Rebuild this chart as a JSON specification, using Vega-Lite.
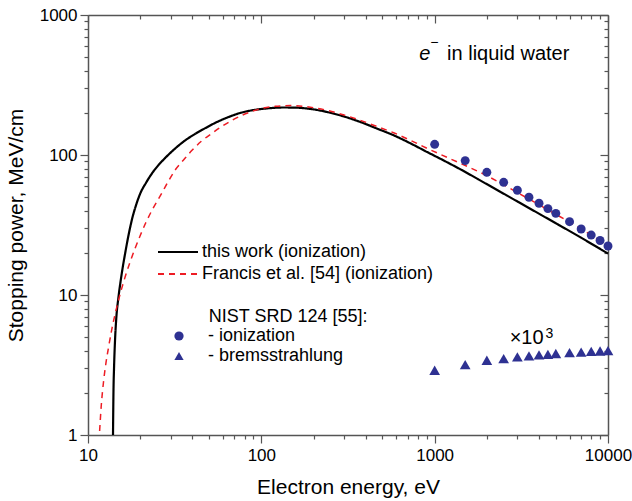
{
  "$schema": "https://vega.github.io/schema/vega-lite/v6.json",
  "width": 520,
  "height": 420,
  "autosize": {"type": "none"},
  "padding": {"left": 88, "top": 15, "right": 24, "bottom": 66},
  "config": {
    "font": "Liberation Sans",
    "view": {"stroke": null},
    "axis": {
      "grid": false,
      "domainColor": "#555555",
      "tickColor": "#555555",
      "domainWidth": 1.5,
      "tickWidth": 1.2,
      "labelColor": "#000000",
      "titleColor": "#000000",
      "labelFontSize": 17,
      "titleFontSize": 21,
      "titleFontWeight": "normal",
      "labelFont": "Liberation Sans",
      "titleFont": "Liberation Sans",
      "labelOverlap": false,
      "labelBound": false,
      "labelFlush": false
    },
    "legend": {"labelFont": "Liberation Sans", "labelColor": "#000000"}
  },
  "datasets": {
    "curves": [
      {"E": 13.94, "S": 1.0, "curve": "this work (ionization)"},
      {"E": 14.03, "S": 2.086, "curve": "this work (ionization)"},
      {"E": 14.13, "S": 2.995, "curve": "this work (ionization)"},
      {"E": 14.32, "S": 4.75, "curve": "this work (ionization)"},
      {"E": 14.56, "S": 6.82, "curve": "this work (ionization)"},
      {"E": 14.96, "S": 9.47, "curve": "this work (ionization)"},
      {"E": 15.36, "S": 12.12, "curve": "this work (ionization)"},
      {"E": 15.88, "S": 15.9, "curve": "this work (ionization)"},
      {"E": 16.42, "S": 20.18, "curve": "this work (ionization)"},
      {"E": 17.08, "S": 26.26, "curve": "this work (ionization)"},
      {"E": 17.94, "S": 34.73, "curve": "this work (ionization)"},
      {"E": 19.0, "S": 44.45, "curve": "this work (ionization)"},
      {"E": 20.04, "S": 53.26, "curve": "this work (ionization)"},
      {"E": 21.7, "S": 63.83, "curve": "this work (ionization)"},
      {"E": 23.41, "S": 74.0, "curve": "this work (ionization)"},
      {"E": 25.45, "S": 84.43, "curve": "this work (ionization)"},
      {"E": 27.93, "S": 95.5, "curve": "this work (ionization)"},
      {"E": 31.91, "S": 111.6, "curve": "this work (ionization)"},
      {"E": 36.42, "S": 127.4, "curve": "this work (ionization)"},
      {"E": 41.6, "S": 141.7, "curve": "this work (ionization)"},
      {"E": 47.52, "S": 155.6, "curve": "this work (ionization)"},
      {"E": 54.28, "S": 169.8, "curve": "this work (ionization)"},
      {"E": 64.77, "S": 186.8, "curve": "this work (ionization)"},
      {"E": 75.64, "S": 199.8, "curve": "this work (ionization)"},
      {"E": 88.39, "S": 208.6, "curve": "this work (ionization)"},
      {"E": 100, "S": 213.1, "curve": "this work (ionization)"},
      {"E": 115.3, "S": 216.6, "curve": "this work (ionization)"},
      {"E": 132.2, "S": 218.4, "curve": "this work (ionization)"},
      {"E": 153.6, "S": 218.1, "curve": "this work (ionization)"},
      {"E": 191.8, "S": 213.4, "curve": "this work (ionization)"},
      {"E": 239.4, "S": 202.8, "curve": "this work (ionization)"},
      {"E": 297.3, "S": 189.0, "curve": "this work (ionization)"},
      {"E": 372.7, "S": 172.1, "curve": "this work (ionization)"},
      {"E": 460.9, "S": 155.1, "curve": "this work (ionization)"},
      {"E": 580.0, "S": 138.3, "curve": "this work (ionization)"},
      {"E": 724.1, "S": 121.2, "curve": "this work (ionization)"},
      {"E": 904.0, "S": 105.1, "curve": "this work (ionization)"},
      {"E": 1122, "S": 91.67, "curve": "this work (ionization)"},
      {"E": 1407, "S": 79.06, "curve": "this work (ionization)"},
      {"E": 2006, "S": 61.77, "curve": "this work (ionization)"},
      {"E": 2988, "S": 46.71, "curve": "this work (ionization)"},
      {"E": 4453, "S": 35.31, "curve": "this work (ionization)"},
      {"E": 6932, "S": 25.83, "curve": "this work (ionization)"},
      {"E": 10000, "S": 19.76, "curve": "this work (ionization)"},
      {"E": 11.67, "S": 1.068, "curve": "Francis et al. [54] (ionization)"},
      {"E": 11.93, "S": 1.63, "curve": "Francis et al. [54] (ionization)"},
      {"E": 12.3, "S": 2.418, "curve": "Francis et al. [54] (ionization)"},
      {"E": 12.66, "S": 3.199, "curve": "Francis et al. [54] (ionization)"},
      {"E": 13.15, "S": 4.252, "curve": "Francis et al. [54] (ionization)"},
      {"E": 13.72, "S": 5.689, "curve": "Francis et al. [54] (ionization)"},
      {"E": 14.37, "S": 7.4, "curve": "Francis et al. [54] (ionization)"},
      {"E": 15.36, "S": 10.28, "curve": "Francis et al. [54] (ionization)"},
      {"E": 16.42, "S": 13.6, "curve": "Francis et al. [54] (ionization)"},
      {"E": 17.54, "S": 17.41, "curve": "Francis et al. [54] (ionization)"},
      {"E": 18.75, "S": 21.74, "curve": "Francis et al. [54] (ionization)"},
      {"E": 20.04, "S": 26.7, "curve": "Francis et al. [54] (ionization)"},
      {"E": 21.41, "S": 32.26, "curve": "Francis et al. [54] (ionization)"},
      {"E": 23.81, "S": 41.97, "curve": "Francis et al. [54] (ionization)"},
      {"E": 26.73, "S": 53.7, "curve": "Francis et al. [54] (ionization)"},
      {"E": 29.06, "S": 64.89, "curve": "Francis et al. [54] (ionization)"},
      {"E": 31.91, "S": 78.41, "curve": "Francis et al. [54] (ionization)"},
      {"E": 35.47, "S": 91.67, "curve": "Francis et al. [54] (ionization)"},
      {"E": 39.82, "S": 108.0, "curve": "Francis et al. [54] (ionization)"},
      {"E": 45.06, "S": 125.3, "curve": "Francis et al. [54] (ionization)"},
      {"E": 51.94, "S": 142.9, "curve": "Francis et al. [54] (ionization)"},
      {"E": 58.79, "S": 159.0, "curve": "Francis et al. [54] (ionization)"},
      {"E": 67.75, "S": 177.0, "curve": "Francis et al. [54] (ionization)"},
      {"E": 76.65, "S": 191.2, "curve": "Francis et al. [54] (ionization)"},
      {"E": 88.39, "S": 205.2, "curve": "Francis et al. [54] (ionization)"},
      {"E": 101.3, "S": 215.6, "curve": "Francis et al. [54] (ionization)"},
      {"E": 120.4, "S": 222.8, "curve": "Francis et al. [54] (ionization)"},
      {"E": 147.0, "S": 225.4, "curve": "Francis et al. [54] (ionization)"},
      {"E": 179.4, "S": 221.7, "curve": "Francis et al. [54] (ionization)"},
      {"E": 239.4, "S": 208.6, "curve": "Francis et al. [54] (ionization)"},
      {"E": 297.3, "S": 193.7, "curve": "Francis et al. [54] (ionization)"},
      {"E": 372.7, "S": 177.0, "curve": "Francis et al. [54] (ionization)"},
      {"E": 460.9, "S": 160.3, "curve": "Francis et al. [54] (ionization)"},
      {"E": 580.0, "S": 144.1, "curve": "Francis et al. [54] (ionization)"},
      {"E": 724.1, "S": 127.4, "curve": "Francis et al. [54] (ionization)"},
      {"E": 904.0, "S": 111.6, "curve": "Francis et al. [54] (ionization)"},
      {"E": 1232, "S": 93.9, "curve": "Francis et al. [54] (ionization)"},
      {"E": 2006, "S": 71.0, "curve": "Francis et al. [54] (ionization)"},
      {"E": 2988, "S": 54.1, "curve": "Francis et al. [54] (ionization)"},
      {"E": 4453, "S": 40.9, "curve": "Francis et al. [54] (ionization)"},
      {"E": 6932, "S": 29.85, "curve": "Francis et al. [54] (ionization)"},
      {"E": 10000, "S": 22.36, "curve": "Francis et al. [54] (ionization)"}
    ],
    "nist": [
      {"E": 1000, "S": 119.2, "kind": "- ionization"},
      {"E": 1500, "S": 91.2, "kind": "- ionization"},
      {"E": 2000, "S": 75.2, "kind": "- ionization"},
      {"E": 2500, "S": 63.8, "kind": "- ionization"},
      {"E": 3000, "S": 56.0, "kind": "- ionization"},
      {"E": 3500, "S": 49.9, "kind": "- ionization"},
      {"E": 4000, "S": 45.2, "kind": "- ionization"},
      {"E": 4500, "S": 41.4, "kind": "- ionization"},
      {"E": 5000, "S": 38.3, "kind": "- ionization"},
      {"E": 6000, "S": 33.4, "kind": "- ionization"},
      {"E": 7000, "S": 29.6, "kind": "- ionization"},
      {"E": 8000, "S": 26.8, "kind": "- ionization"},
      {"E": 9000, "S": 24.5, "kind": "- ionization"},
      {"E": 10000, "S": 22.4, "kind": "- ionization"},
      {"E": 1000, "S": 2.9, "kind": "- bremsstrahlung"},
      {"E": 1500, "S": 3.18, "kind": "- bremsstrahlung"},
      {"E": 2000, "S": 3.42, "kind": "- bremsstrahlung"},
      {"E": 2500, "S": 3.51, "kind": "- bremsstrahlung"},
      {"E": 3000, "S": 3.61, "kind": "- bremsstrahlung"},
      {"E": 3500, "S": 3.67, "kind": "- bremsstrahlung"},
      {"E": 4000, "S": 3.73, "kind": "- bremsstrahlung"},
      {"E": 4500, "S": 3.77, "kind": "- bremsstrahlung"},
      {"E": 5000, "S": 3.82, "kind": "- bremsstrahlung"},
      {"E": 6000, "S": 3.88, "kind": "- bremsstrahlung"},
      {"E": 7000, "S": 3.91, "kind": "- bremsstrahlung"},
      {"E": 8000, "S": 3.96, "kind": "- bremsstrahlung"},
      {"E": 9000, "S": 3.98, "kind": "- bremsstrahlung"},
      {"E": 10000, "S": 4.01, "kind": "- bremsstrahlung"}
    ]
  },
  "layer": [
    {
      "data": {"name": "curves"},
      "transform": [{"filter": "datum.curve == 'this work (ionization)'"}],
      "mark": {"type": "line", "strokeWidth": 2.2, "interpolate": "monotone"},
      "encoding": {
        "x": {
          "field": "E", "type": "quantitative",
          "scale": {"type": "log", "domain": [10, 10000], "nice": false},
          "axis": {
            "orient": "bottom",
            "values": [10,20,30,40,50,60,70,80,90,100,200,300,400,500,600,700,800,900,1000,2000,3000,4000,5000,6000,7000,8000,9000,10000],
            "format": "d",
            "labelExpr": "(datum.value==10||datum.value==100||datum.value==1000||datum.value==10000) ? datum.label : ''",
            "tickSize": {"condition": {"test": "datum.value==10||datum.value==100||datum.value==1000||datum.value==10000", "value": 8}, "value": 4},
            "labelPadding": 4,
            "title": "Electron energy, eV",
            "titlePadding": 13
          }
        },
        "y": {
          "field": "S", "type": "quantitative",
          "scale": {"type": "log", "domain": [1, 1000], "nice": false},
          "axis": {
            "orient": "left",
            "values": [1,2,3,4,5,6,7,8,9,10,20,30,40,50,60,70,80,90,100,200,300,400,500,600,700,800,900,1000],
            "format": "d",
            "labelExpr": "(datum.value==1||datum.value==10||datum.value==100||datum.value==1000) ? datum.label : ''",
            "tickSize": {"condition": {"test": "datum.value==1||datum.value==10||datum.value==100||datum.value==1000", "value": 8}, "value": 4},
            "labelPadding": 3,
            "title": "Stopping power, MeV/cm",
            "titlePadding": 13
          }
        },
        "color": {
          "field": "curve", "type": "nominal",
          "scale": {"domain": ["this work (ionization)", "Francis et al. [54] (ionization)"], "range": ["#000000", "#ED1C24"]},
          "legend": {
            "orient": "none", "legendX": 79, "legendY": 226, "title": null,
            "symbolType": "M-2,0L2,0", "symbolSize": 400, "symbolStrokeWidth": 2,
            "labelFontSize": 18, "labelOffset": 13, "rowPadding": 2, "labelLimit": 400
          }
        },
        "strokeDash": {
          "field": "curve", "type": "nominal",
          "scale": {"domain": ["this work (ionization)", "Francis et al. [54] (ionization)"], "range": [[1, 0], [6, 5]]}
        }
      }
    },
    {
      "data": {"name": "curves"},
      "transform": [{"filter": "datum.curve != 'this work (ionization)'"}],
      "mark": {"type": "line", "strokeWidth": 1.5, "interpolate": "monotone"},
      "encoding": {
        "x": {"field": "E", "type": "quantitative", "axis": null},
        "y": {"field": "S", "type": "quantitative", "axis": null},
        "color": {"field": "curve", "type": "nominal"},
        "strokeDash": {"field": "curve", "type": "nominal"}
      }
    },
    {
      "data": {"name": "nist"},
      "transform": [{"filter": "datum.kind == '- ionization'"}],
      "mark": {"type": "point", "filled": true, "color": "#2E3192", "opacity": 1, "size": 80},
      "encoding": {
        "x": {"field": "E", "type": "quantitative", "axis": null},
        "y": {"field": "S", "type": "quantitative", "axis": null},
        "shape": {
          "field": "kind", "type": "nominal",
          "scale": {"domain": ["- ionization", "- bremsstrahlung"], "range": ["circle", "triangle-up"]},
          "legend": {
            "orient": "none", "legendX": 82, "legendY": 312, "title": null,
            "symbolSize": 85, "symbolFillColor": "#2E3192", "symbolStrokeColor": "#2E3192",
            "labelFontSize": 18, "labelOffset": 20, "rowPadding": 2, "labelLimit": 400
          }
        }
      }
    },
    {
      "data": {"name": "nist"},
      "transform": [{"filter": "datum.kind == '- bremsstrahlung'"}],
      "mark": {"type": "point", "filled": true, "color": "#2E3192", "opacity": 1, "size": 115},
      "encoding": {
        "x": {"field": "E", "type": "quantitative", "axis": null},
        "y": {"field": "S", "type": "quantitative", "axis": null},
        "shape": {"field": "kind", "type": "nominal"}
      }
    },
    {
      "data": {"name": "nist"},
      "mark": {"type": "point", "opacity": 0},
      "encoding": {
        "x": {
          "field": "E", "type": "quantitative",
          "axis": {
            "orient": "top", "labels": false, "title": null,
            "values": [10,20,30,40,50,60,70,80,90,100,200,300,400,500,600,700,800,900,1000,2000,3000,4000,5000,6000,7000,8000,9000,10000],
            "tickSize": {"condition": {"test": "datum.value==10||datum.value==100||datum.value==1000||datum.value==10000", "value": -8}, "value": -4}
          }
        },
        "y": {
          "field": "S", "type": "quantitative",
          "axis": {
            "orient": "right", "labels": false, "title": null,
            "values": [1,2,3,4,5,6,7,8,9,10,20,30,40,50,60,70,80,90,100,200,300,400,500,600,700,800,900,1000],
            "tickSize": {"condition": {"test": "datum.value==1||datum.value==10||datum.value==100||datum.value==1000", "value": -8}, "value": -4}
          }
        }
      }
    },
    {
      "data": {"values": [{}]},
      "mark": {"type": "text", "text": "NIST SRD 124 [55]:", "fontSize": 18, "align": "left", "baseline": "middle", "color": "#000000"},
      "encoding": {"x": {"datum": 49.7, "type": "quantitative", "axis": null}, "y": {"datum": 6.97, "type": "quantitative", "axis": null}}
    },
    {
      "data": {"values": [{}]},
      "mark": {"type": "text", "text": "×10", "fontSize": 20, "align": "left", "baseline": "alphabetic", "color": "#000000"},
      "encoding": {"x": {"datum": 2709, "type": "quantitative", "axis": null}, "y": {"datum": 4.5, "type": "quantitative", "axis": null}}
    },
    {
      "data": {"values": [{}]},
      "mark": {"type": "text", "text": "3", "fontSize": 14, "align": "left", "baseline": "alphabetic", "color": "#000000"},
      "encoding": {"x": {"datum": 4354, "type": "quantitative", "axis": null}, "y": {"datum": 4.906, "type": "quantitative", "axis": null}}
    },
    {
      "data": {"values": [{}]},
      "mark": {"type": "text", "text": "e", "fontSize": 20, "fontStyle": "italic", "align": "left", "baseline": "alphabetic", "color": "#000000"},
      "encoding": {"x": {"datum": 816, "type": "quantitative", "axis": null}, "y": {"datum": 480, "type": "quantitative", "axis": null}}
    },
    {
      "data": {"values": [{}]},
      "mark": {"type": "text", "text": "−", "fontSize": 14, "align": "left", "baseline": "middle", "color": "#000000"},
      "encoding": {"x": {"datum": 944, "type": "quantitative", "axis": null}, "y": {"datum": 631, "type": "quantitative", "axis": null}}
    },
    {
      "data": {"values": [{}]},
      "mark": {"type": "text", "text": "in liquid water", "fontSize": 20, "align": "left", "baseline": "alphabetic", "color": "#000000"},
      "encoding": {"x": {"datum": 1179, "type": "quantitative", "axis": null}, "y": {"datum": 480, "type": "quantitative", "axis": null}}
    }
  ],
  "resolve": {"axis": {"x": "independent", "y": "independent"}}
}
